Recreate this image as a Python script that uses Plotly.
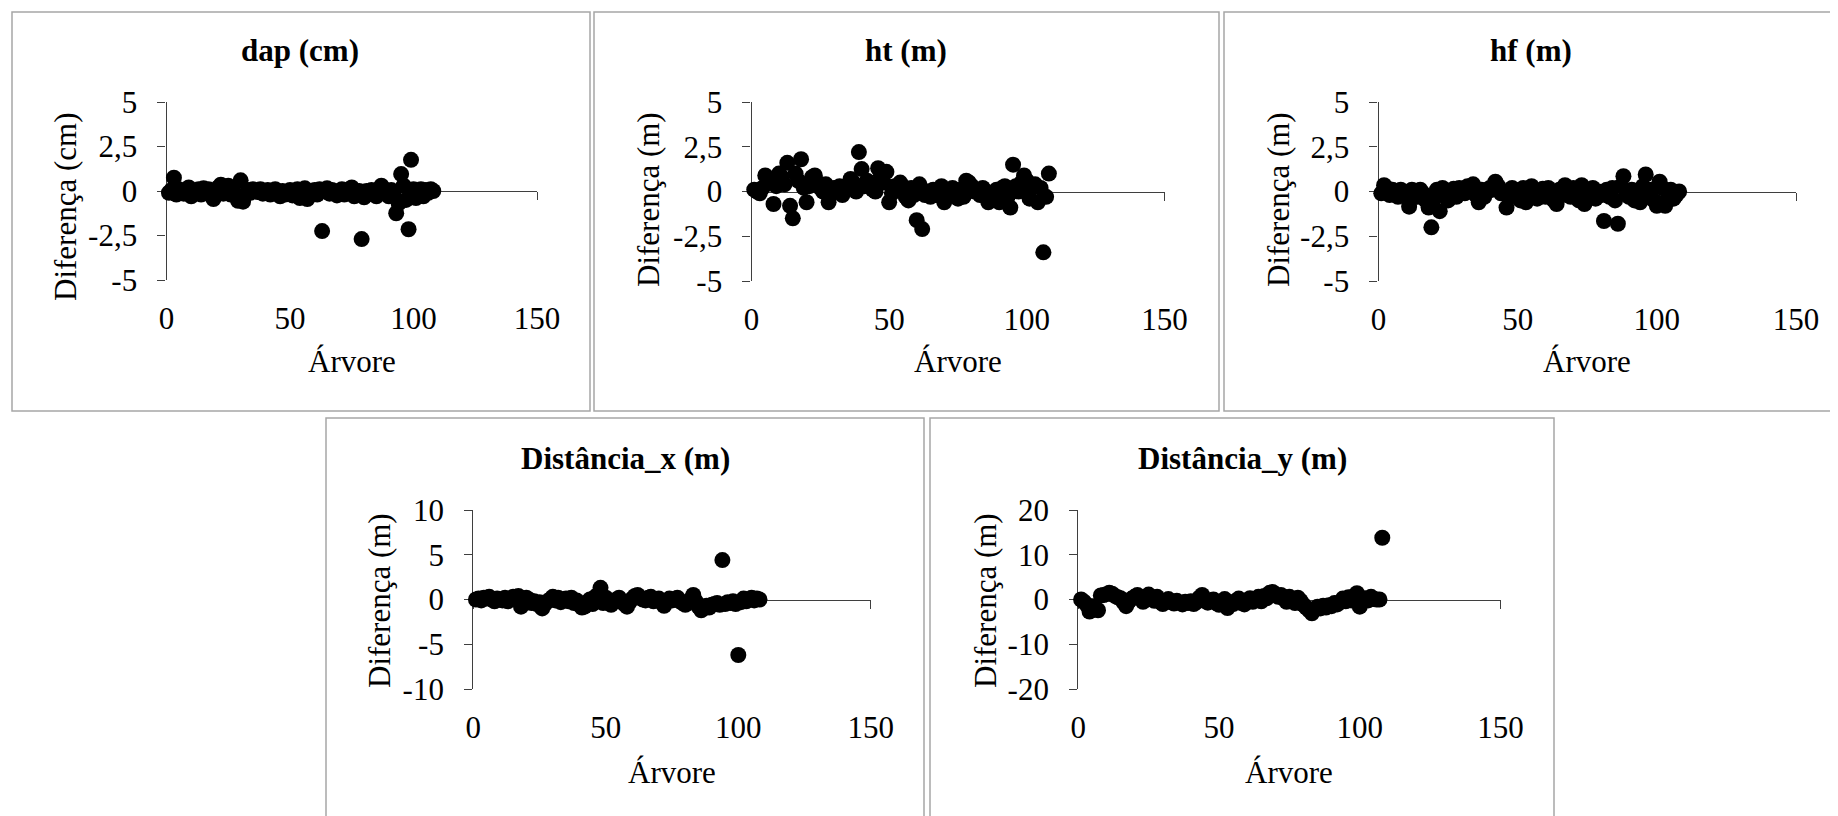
import plotly.graph_objects as go

W, H = 1838, 816
OFF = 8  # the page body places the figure 8 px right and down

# ---------------- data ----------------
arvore = list(range(1, 109))

dap = [-0.1, 0.05, 0.75, -0.2, 0.1, 0.0, -0.15, 0.05, 0.2, -0.3,
       0.0, -0.1, 0.1, -0.2, 0.15, -0.05, 0.1, -0.25, -0.45, -0.1,
       0.2, 0.35, -0.15, 0.05, 0.3, -0.2, 0.0, -0.3, -0.55, 0.6,
       -0.6, -0.2, 0.05, -0.1, 0.1, 0.0, -0.05, 0.1, -0.15, 0.0,
       0.05, -0.2, 0.0, 0.1, -0.1, -0.3, 0.0, -0.2, -0.05, 0.05,
       -0.25, -0.1, 0.1, -0.4, -0.15, 0.15, -0.45, -0.1, 0.0, 0.05,
       -0.2, 0.1, -2.25, 0.0, 0.15, -0.15, 0.05, -0.1, -0.25, 0.0,
       0.1, -0.2, -0.05, 0.1, 0.2, -0.3, -0.1, 0.0, -2.7, -0.35,
       0.0, -0.15, 0.05, -0.2, -0.3, 0.0, 0.3, 0.1, -0.1, -0.3,
       0.05, -0.05, -1.25, -0.7, 0.95, 0.3, -0.5, -2.15, 1.75, 0.1,
       -0.4, -0.1, 0.1, -0.3, 0.05, -0.1, 0.1, 0.0]

ht = [0.1, 0.0, -0.1, 0.2, 0.9, 0.5, 0.6, -0.7, 0.3, 1.0,
      0.8, 0.4, 1.6, -0.8, -1.5, 1.0, 0.6, 1.8, 0.2, -0.6,
      0.3, 0.8, 0.9, 0.5, 0.2, 0.0, 0.4, -0.6, 0.1, 0.2,
      0.0, 0.3, -0.2, 0.1, 0.2, 0.7, 0.5, 0.0, 2.2, 1.25,
      0.3, 0.6, 0.4, 0.1, 0.0, 1.3, 0.9, 0.5, 1.1, -0.6,
      -0.1, 0.3, 0.1, 0.5, 0.0, -0.3, -0.5, 0.2, -0.2, -1.6,
      0.4, -2.1, -0.2, 0.0, -0.3, 0.1, -0.2, 0.0, 0.3, -0.6,
      0.0, -0.2, 0.2, 0.0, -0.4, 0.1, -0.3, 0.6, 0.5, 0.3,
      0.0, 0.1, -0.2, 0.2, 0.0, -0.6, -0.5, -0.2, 0.1, -0.6,
      0.2, 0.3, -0.3, -0.9, 1.5, 0.3, 0.0, 0.5, 0.9, 0.6,
      -0.4, 0.2, 0.4, -0.6, 0.2, -3.4, -0.3, 1.0]

hf = [-0.1, 0.35, 0.2, -0.2, 0.1, 0.0, -0.3, 0.1, 0.0, -0.2,
      -0.85, 0.1, 0.0, -0.3, 0.1, -0.1, -0.5, -0.9, -2.0, -0.4,
      0.1, -1.1, 0.2, -0.2, -0.5, 0.0, 0.15, -0.3, 0.2, 0.1,
      -0.1, 0.3, 0.0, 0.4, -0.2, -0.6, 0.1, -0.3, 0.0, 0.2,
      0.1, 0.55, 0.3, -0.1, 0.0, -0.9, -0.3, 0.2, -0.2, 0.0,
      -0.5, 0.2, -0.6, 0.1, 0.3, -0.2, -0.4, 0.0, 0.15, -0.3,
      0.2, -0.1, -0.5, -0.7, 0.1, -0.2, 0.35, 0.0, -0.3, 0.2,
      -0.1, -0.5, 0.35, -0.7, 0.1, -0.3, 0.2, -0.4, 0.0, -0.2,
      -1.65, 0.1, -0.3, 0.2, -0.5, -1.8, 0.3, 0.85, 0.0, -0.3,
      0.1, -0.5, -0.2, -0.6, 0.3, 0.95, -0.3, 0.1, -0.5, -0.8,
      0.55, 0.2, -0.8, -0.3, 0.1, -0.4, -0.2, 0.0]

dist_x = [0.0, 0.1, -0.1, 0.2, 0.1, 0.3, 0.0, -0.2, 0.1, 0.0,
          -0.1, 0.2, -0.2, 0.1, 0.3, 0.2, 0.4, -0.8, -0.3, 0.2,
          0.0, -0.4, -0.2, -0.5, -0.3, -1.0, -0.5, -0.2, 0.0, 0.3,
          -0.1, 0.2, -0.3, 0.0, 0.1, -0.2, 0.2, -0.4, -0.1, -0.6,
          -0.9, -0.8, -0.3, 0.0, -0.5, 0.3, 0.5, 1.3, -0.4, 0.2,
          -0.1, -0.6, -0.3, 0.0, 0.2, -0.2, -0.5, -0.8, -0.3, 0.1,
          0.4, 0.5, 0.2, 0.0, -0.1, 0.2, 0.3, -0.2, 0.0, 0.1,
          -0.3, -0.7, -0.2, 0.1, -0.1, 0.0, 0.2, -0.2, -0.4, -0.6,
          -0.3, 0.0, 0.5, -0.2, -0.8, -1.2, -1.0, -0.7, -0.9, -0.6,
          -0.5, -0.4, -0.6, 4.4, -0.5, -0.3, -0.4, -0.2, -0.5, -6.2,
          -0.3, 0.1, -0.2, 0.0, 0.2, -0.1, 0.1, 0.0]

dist_y = [0.0, -0.5, -1.2, -2.7, -1.5, -2.0, -2.4, 0.9, 1.0, 1.2,
          1.5, 1.3, 0.8, 0.5, 0.3, -0.6, -1.5, -0.4, 0.2, 0.6,
          1.0, 0.3, -0.5, 0.4, 1.1, 0.2, -0.3, 0.6, -0.5, -1.0,
          -0.4, 0.1, -0.6, -0.9, -0.3, -0.7, -1.1, -0.5, -0.8, -0.4,
          -1.0, -0.6, 0.4, 1.0, -0.2, -0.7, -0.3, 0.0, -0.8, -1.2,
          -0.5, 0.1, -1.9, -0.6, -1.0, -0.3, 0.2, -0.8, -1.1, -0.2,
          0.3, -0.5, 0.0, 0.6, -0.4, 0.8, 0.3, 1.5, 1.7, 1.2,
          0.6, 1.0, 0.2, -0.5, 0.6, 0.0, -0.8, 0.4, -0.3, -1.2,
          -1.8, -2.4, -3.1, -2.2, -1.6, -2.0, -1.4, -1.8, -1.3, -1.5,
          -0.8, -1.1, -0.6, 0.2, -0.4, 0.5, -0.2, 0.8, 1.4, -1.6,
          -0.5, 0.3, -0.2, 0.6, 0.1, 0.0, 0.0, 13.8]

titles = ["dap (cm)", "ht (m)", "hf (m)", "Distância_x (m)", "Distância_y (m)"]
y_titles = ["Diferença (cm)", "Diferença (m)", "Diferença (m)", "Diferença (m)", "Diferença (m)"]
x_title = "Árvore"
x_ticks = [0, 50, 100, 150]
y_ticks_small = [-5, -2.5, 0, 2.5, 5]
y_ticktext_small = ["-5", "-2,5", "0", "2,5", "5"]
y_ticks_dx = [-10, -5, 0, 5, 10]
y_ticktext_dx = ["-10", "-5", "0", "5", "10"]
y_ticks_dy = [-20, -10, 0, 10, 20]
y_ticktext_dy = ["-20", "-10", "0", "10", "20"]

series = [dap, ht, hf, dist_x, dist_y]
yticks = [(y_ticks_small, y_ticktext_small)] * 3 + [(y_ticks_dx, y_ticktext_dx), (y_ticks_dy, y_ticktext_dy)]

# ---------------- layout geometry (screen pixels) ----------------
geo = [
    dict(x0=166.5, x1=537, yt=102, yb=280, tx=300, ty=50, ytx=65, yty=207, xty=361, frame=(12, 12, 590, 411)),
    dict(x0=751.5, x1=1164.5, yt=102, yb=281, tx=906, ty=50, ytx=648, yty=200, xty=361, frame=(594, 12, 1219, 411)),
    dict(x0=1378.5, x1=1796, yt=102, yb=281, tx=1531, ty=50, ytx=1278, yty=200, xty=361, frame=(1224, 12, 1837, 411)),
    dict(x0=473.3, x1=870.8, yt=510, yb=689, tx=625, ty=458, ytx=379, yty=601, xty=772, frame=(326, 418, 924, 830)),
    dict(x0=1078.3, x1=1500.5, yt=510, yb=689, tx=1242, ty=458, ytx=985, yty=601, xty=772, frame=(930, 418, 1554, 830)),
]

FONT = "Liberation Serif, Times New Roman, serif"
FS = 31
AX = "#3f3f3f"

def px(x):
    return (x - OFF) / W

def py(y):
    return 1 - (y - OFF) / H

fig = go.Figure()
layout = dict(
    width=W, height=H, autosize=False,
    margin=dict(l=0, r=0, t=0, b=0, pad=0, autoexpand=False),
    paper_bgcolor="white", plot_bgcolor="rgba(0,0,0,0)",
    showlegend=False, font=dict(family=FONT, size=FS, color="black"),
    shapes=[], annotations=[],
)

for i, (vals, g) in enumerate(zip(series, geo)):
    n = i + 1
    xa = "x" if n == 1 else f"x{n}"
    ya = "y" if n == 1 else f"y{n}"
    xo = f"x{n + 5}"
    lim = max(yticks[i][0])
    ydom = [py(g["yb"]), py(g["yt"])]

    fig.add_trace(go.Scatter(
        x=[], y=[], xaxis=xo, yaxis=ya, mode="markers", hoverinfo="skip"))
    fig.add_trace(go.Scatter(
        x=arvore, y=vals, xaxis=xa, yaxis=ya, mode="markers",
        marker=dict(color="black", size=16, line=dict(width=0)),
        cliponaxis=False))

    layout[f"xaxis{n}"] = dict(
        domain=[px(g["x0"]), px(g["x1"])], range=[0, 150], anchor=ya,
        tickvals=x_ticks, ticks="", showline=False, showgrid=False,
        zeroline=False, ticklabelstandoff=17, automargin=False,
        tickfont=dict(family=FONT, size=FS, color="black"), layer="below traces")
    layout[f"xaxis{n + 5}"] = dict(
        overlaying=xa, anchor="free", position=(ydom[0] + ydom[1]) / 2,
        range=[0, 150], tickvals=x_ticks, ticks="outside", ticklen=8,
        tickwidth=1.3, tickcolor=AX, showline=True, linecolor=AX, linewidth=1.3,
        showticklabels=False, showgrid=False, zeroline=False, automargin=False,
        layer="below traces")
    layout[f"yaxis{n}"] = dict(
        domain=ydom, range=[-lim, lim], anchor=xa,
        tickvals=yticks[i][0], ticktext=yticks[i][1], ticks="outside",
        ticklen=8, tickwidth=1.3, tickcolor=AX, showline=True, linecolor=AX,
        linewidth=1.3, showgrid=False, zeroline=False, ticklabelstandoff=14,
        automargin=False,
        tickfont=dict(family=FONT, size=FS, color="black"), layer="below traces")

    fx0, fy0, fx1, fy1 = g["frame"]
    layout["shapes"].append(dict(
        type="rect", xref="paper", yref="paper",
        x0=px(fx0), x1=px(fx1), y0=py(fy1), y1=py(fy0),
        line=dict(color="#a6a6a6", width=1.5), fillcolor="rgba(0,0,0,0)", layer="below"))

    layout["annotations"].append(dict(
        text=f"<b>{titles[i]}</b>", xref="paper", yref="paper",
        x=px(g["tx"]), y=py(g["ty"]), xanchor="center", yanchor="middle",
        showarrow=False, font=dict(family=FONT, size=FS, color="black")))
    layout["annotations"].append(dict(
        text=y_titles[i], xref="paper", yref="paper", textangle=-90,
        x=px(g["ytx"]), y=py(g["yty"]), xanchor="center", yanchor="middle",
        showarrow=False, font=dict(family=FONT, size=FS, color="black")))
    layout["annotations"].append(dict(
        text=x_title, xref="paper", yref="paper",
        x=px((g["x0"] + g["x1"]) / 2), y=py(g["xty"]), xanchor="center", yanchor="middle",
        showarrow=False, font=dict(family=FONT, size=FS, color="black")))

fig.update_layout(**layout)
fig.write_html("out.html")
